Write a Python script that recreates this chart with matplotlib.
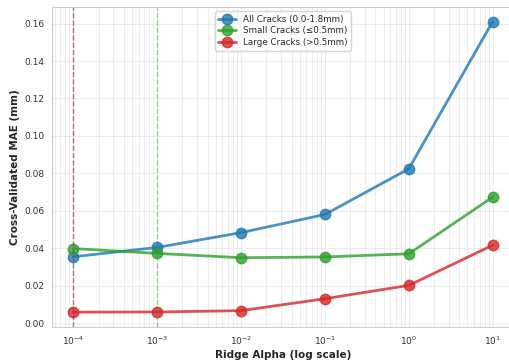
import numpy as np
import matplotlib
matplotlib.use("Agg")
import matplotlib.pyplot as plt
import seaborn as sns

# ridge alpha sweep and cross-validated MAE for each crack group
alphas = [1e-4, 1e-3, 1e-2, 1e-1, 1e0, 1e1]
mae_all = [0.0354, 0.0404, 0.0483, 0.0580, 0.0824, 0.1611]
mae_small = [0.0398, 0.0372, 0.0349, 0.0353, 0.0370, 0.0673]
mae_large = [0.0058, 0.0059, 0.0066, 0.0130, 0.0201, 0.0416]
best_alphas = [1e-4, 1e-3, 1e-4]

labels = ["All Cracks (0.0-1.8mm)", "Small Cracks (\u22640.5mm)", "Large Cracks (>0.5mm)"]
colors = ["#1f77b4", "#2ca02c", "#d62728"]

sns.set_style("whitegrid")
plt.rcParams['font.family'] = ['DejaVu Sans']

fig = plt.figure(figsize=(5.10, 3.62), dpi=100)
ax = fig.add_axes([52/510, 35.3/362, 462/510, 319.7/362])

for ys, lab, c in zip([mae_all, mae_small, mae_large], labels, colors):
    ax.plot(alphas, ys, marker='o', markersize=7.5, linewidth=2, color=c, alpha=0.8, label=lab)

for a, c in zip(best_alphas, colors):
    ax.axvline(a, color=c, linestyle='--', linewidth=1, alpha=0.45)

ax.set_xscale('log')
ax.set_xlim(10**-4.254, 10**1.254)
ax.grid(True, which='both', alpha=0.35)
ax.set_xlabel("Ridge Alpha (log scale)", fontsize=7.5, fontweight='bold', labelpad=2)
ax.set_ylabel("Cross-Validated MAE (mm)", fontsize=7.5, fontweight='bold', labelpad=3)
ax.tick_params(labelsize=6.5, colors='#333333', pad=2)
ax.legend(loc='upper center', fontsize=6.3, frameon=True, borderpad=0.4, labelspacing=0.3)

fig.savefig("out.png", dpi=100)
